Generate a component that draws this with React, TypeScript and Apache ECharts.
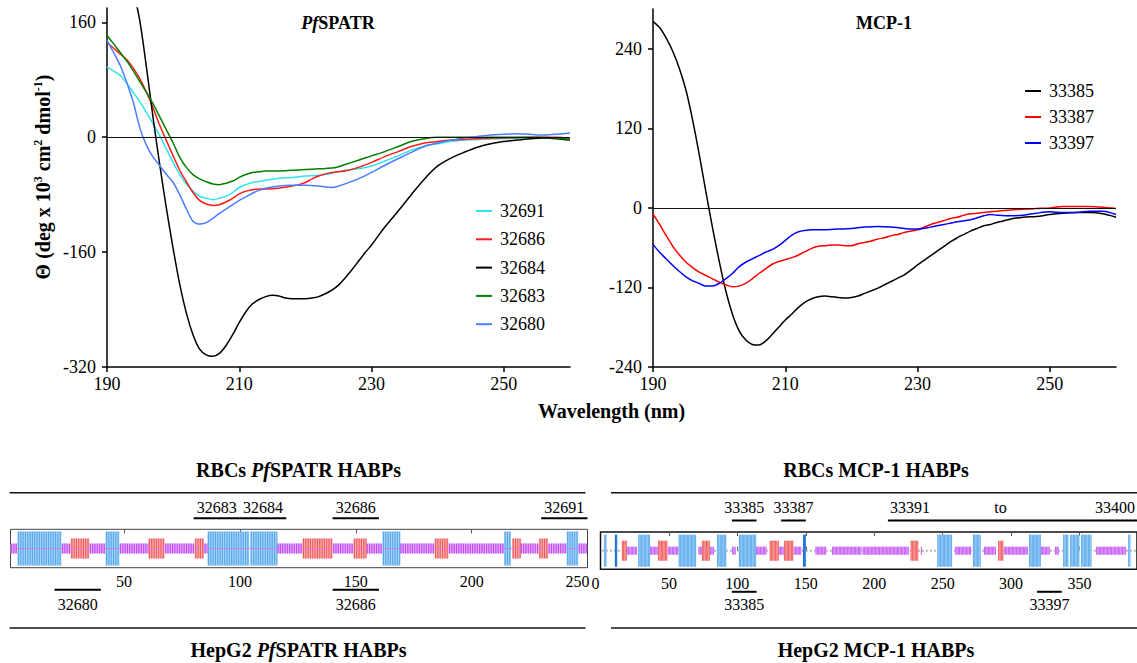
import React, { useEffect, useRef } from "react";
import * as echarts from "echarts";

const FONT = "Liberation Serif, Times New Roman, serif";
const W = 1137;
const H = 663;

// ---------- CD spectra ----------
const wavelengthTicks = [190, 210, 230, 250];
const spatrThetaTicks = [-320, -160, 0, 160];
const mcpThetaTicks = [-240, -120, 0, 120, 240];

const spatrNames = ["32691", "32686", "32684", "32683", "32680"];
const spatrColors = ["#2ee3ee", "#ff1a1a", "#000000", "#008000", "#4a7dff"];

const cd32691: number[][] = [[190,98],[191,92],[192,86],[193,75],[194,62],[195,49],[196,34],[197,18],[198,2],[199,-17],[200,-35],[201,-52],[202,-65],[203,-75],[204,-82],[205,-85],[206,-87],[207,-85],[208,-82],[209,-77],[210,-70],[211,-66],[212,-63],[214,-60],[216,-57],[218,-56],[220,-54],[222,-53],[224,-50],[226,-46],[228,-44],[230,-40],[232,-33],[234,-26],[236,-18],[238,-12],[240,-9],[242,-6],[244,-4],[246,-3],[250,-2],[255,-1],[260,-1]];
const cd32686: number[][] = [[190,132],[191,124],[192,116],[193,108],[194,96],[195,81],[196,62],[197,40],[198,16],[199,-5],[200,-26],[201,-46],[202,-62],[203,-77],[204,-88],[205,-93],[206,-95],[207,-94],[208,-90],[209,-85],[210,-79],[211,-75],[212,-73],[213,-72],[214,-72],[216,-71],[218,-68],[219,-66],[220,-63],[221,-58],[222,-54],[223,-51],[224,-49],[225,-48],[226,-47],[228,-42],[230,-35],[232,-27],[234,-20],[236,-13],[238,-8],[240,-6],[242,-4],[246,-2],[250,-1],[255,0],[258,0],[260,-2]];
const cd32684: number[][] = [[194,205],[195,160],[196,95],[197,25],[198,-40],[199,-100],[200,-155],[201,-205],[202,-245],[203,-275],[204,-295],[205,-303],[206,-305],[207,-301],[208,-290],[209,-275],[210,-258],[211,-243],[212,-232],[213,-226],[214,-222],[215,-220],[216,-221],[217,-224],[218,-225],[219,-225],[220,-225],[221,-224],[222,-222],[223,-218],[224,-213],[225,-206],[226,-196],[227,-185],[228,-173],[229,-161],[230,-150],[232,-125],[234,-103],[236,-80],[238,-58],[240,-40],[242,-29],[244,-21],[246,-14],[248,-9],[250,-6],[252,-4],[254,-2],[256,-1],[258,-2],[260,-4]];
const cd32683: number[][] = [[190,142],[191,130],[192,118],[193,106],[194,92],[195,77],[196,62],[197,46],[198,28],[199,10],[200,-8],[201,-28],[202,-42],[203,-52],[204,-58],[205,-62],[206,-65],[207,-66],[208,-64],[209,-61],[210,-56],[211,-52],[212,-49],[213,-48],[214,-47],[216,-47],[218,-46],[220,-45],[222,-44],[224,-43],[225,-41],[226,-38],[228,-32],[230,-26],[232,-20],[234,-13],[236,-6],[238,-2],[240,0],[245,0],[250,0],[255,0],[258,-1],[260,-3]];
const cd32680: number[][] = [[190,135],[191,118],[192,100],[193,76],[194,48],[195,12],[196,-12],[197,-28],[198,-40],[199,-52],[200,-63],[201,-80],[202,-100],[203,-117],[204,-121],[205,-119],[206,-113],[207,-106],[208,-100],[209,-94],[210,-88],[211,-83],[212,-78],[213,-74],[214,-71],[216,-68],[218,-67],[220,-67],[222,-68],[224,-70],[225,-68],[226,-65],[228,-58],[230,-49],[232,-39],[234,-30],[236,-21],[238,-13],[240,-8],[242,-4],[244,-1],[246,1],[248,3],[250,4],[252,5],[254,4],[256,3],[258,4],[260,6]];
const spatrData = [cd32691, cd32686, cd32684, cd32683, cd32680];

const mcpNames = ["33385", "33387", "33397"];
const mcpColors = ["#000000", "#ff0000", "#0000ff"];
const cd33385: number[][] = [[190,281],[191,272],[192,256],[193,236],[194,210],[195,177],[196,132],[197,80],[198,24],[199,-30],[200,-80],[201,-125],[202,-160],[203,-185],[204,-199],[205,-206],[206,-207],[207,-201],[208,-191],[209,-180],[210,-169],[211,-160],[212,-150],[213,-142],[214,-137],[215,-134],[216,-133],[217,-134],[218,-135],[219,-136],[220,-135],[221,-133],[222,-129],[223,-125],[224,-121],[225,-116],[226,-111],[227,-106],[228,-101],[229,-94],[230,-86],[231,-79],[232,-72],[233,-65],[234,-58],[235,-51],[236,-45],[237,-40],[238,-35],[239,-31],[240,-27],[241,-25],[242,-22],[244,-17],[246,-14],[248,-13],[250,-10],[252,-8],[254,-7],[256,-7],[258,-9],[260,-14]];
const cd33387: number[][] = [[190,-9],[191,-25],[192,-42],[193,-58],[194,-71],[195,-82],[196,-90],[197,-97],[198,-102],[199,-107],[200,-112],[201,-116],[202,-119],[203,-118],[204,-114],[205,-107],[206,-99],[207,-92],[208,-85],[209,-81],[210,-78],[211,-75],[212,-71],[213,-66],[214,-61],[215,-58],[216,-57],[217,-56],[218,-56],[219,-57],[220,-57],[221,-54],[222,-52],[223,-50],[224,-47],[225,-45],[226,-42],[227,-40],[228,-37],[229,-35],[230,-33],[231,-29],[232,-25],[233,-22],[234,-19],[235,-16],[236,-14],[237,-11],[238,-9],[239,-8],[240,-7],[242,-5],[244,-3],[246,-2],[248,-1],[250,0],[252,2],[254,2],[256,2],[258,1],[260,-1]];
const cd33397: number[][] = [[190,-55],[191,-67],[192,-77],[193,-87],[194,-96],[195,-104],[196,-110],[197,-114],[198,-118],[199,-118],[200,-114],[201,-107],[202,-99],[203,-89],[204,-82],[205,-77],[206,-72],[207,-67],[208,-63],[209,-57],[210,-49],[211,-41],[212,-36],[213,-34],[214,-33],[216,-33],[218,-32],[220,-31],[222,-29],[224,-28],[226,-29],[228,-31],[229,-32],[230,-32],[232,-29],[234,-25],[236,-21],[238,-18],[240,-12],[241,-10],[242,-11],[244,-12],[246,-11],[248,-8],[250,-6],[252,-7],[254,-7],[256,-5],[258,-5],[260,-10]];
const mcpData = [cd33385, cd33387, cd33397];

// ---------- Protein schematics ----------
const spatrLength = 250;
const spatrResidueTicks = [50, 100, 150, 200, 250];
const spatrBlue: number[][] = [[4,23],[42,48],[86,104],[104.5,116],[161.5,169],[214,217],[241,246]];
const spatrRed: number[][] = [[27,35],[60.5,67.5],[80.5,84.5],[127,140],[149,154.5],[184,190],[217.5,221],[229,233]];
const spatrPurple: number[][] = [[1,4],[23,27],[35,42],[48,60.5],[67.5,80.5],[84.5,86],[116,127],[140,149],[154.5,161.5],[169,184],[190,214],[221,229],[233,241],[246,249.5]];

const mcpLength = 392;
const mcpResidueTicks = [0, 50, 100, 150, 200, 250, 300, 350];
const mcpBlue: number[][] = [[2.5,4.5],[27.5,36],[57,70],[85,92],[101,113.5],[246,257],[272,277.5],[313,321.5],[338,342],[343,350],[351,358.5],[385.5,387]];
const mcpBlueDark: number[][] = [[10.5,12],[148,150]];
const mcpRed: number[][] = [[15.5,19],[42,49],[74,80],[123.5,130],[134,141],[226.5,232],[290.5,294.5]];
const mcpPurple: number[][] = [[19,26.5],[36,42],[49,57],[71.5,74],[80,83],[96,98.5],[113.5,121.5],[130,134],[141,146.5],[157,165],[169,190.5],[191.5,225],[234,235],[259,271],[280,289],[294.5,312],[321.5,328],[332,335],[362,384]];

// HABP peptides (first and last residue)
const spatrRbcIds = ["32683", "32684", "32686", "32691"];
const spatrRbcFrom = [81, 101, 141, 231];
const spatrRbcTo = [100, 120, 160, 250];
const spatrHepIds = ["32680", "32686"];
const spatrHepFrom = [21, 141];
const spatrHepTo = [40, 160];

const mcpRbcIds = ["33385", "33387", "33391 to 33400"];
const mcpRbcFrom = [97, 133, 211];
const mcpRbcTo = [114, 150, 395];
const mcpHepIds = ["33385", "33397"];
const mcpHepFrom = [97, 320];
const mcpHepTo = [114, 337];

type SegStyle = { half: number; fill: string; stripe: string };

function structureRenderer(styles: SegStyle[]) {
  return (params: any, api: any) => {
    const s = api.value(0);
    const e = api.value(1);
    const st = styles[api.value(2)];
    const cs = params.coordSys;
    const cy = cs.y + cs.height / 2;
    const x0 = api.coord([s, 0])[0];
    const x1 = api.coord([e, 0])[0];
    const unit = api.coord([1, 0])[0] - api.coord([0, 0])[0];
    const children: any[] = [
      { type: "rect", shape: { x: x0, y: cy - st.half, width: x1 - x0, height: st.half * 2 }, style: { fill: st.fill } },
    ];
    for (let r = s; r < e - 0.25; r += 1) {
      const xs = api.coord([r, 0])[0] + unit * 0.2;
      children.push({
        type: "rect",
        shape: { x: xs, y: cy - st.half, width: Math.max(0.6, unit * 0.5), height: st.half * 2 },
        style: { fill: st.stripe },
      });
    }
    return { type: "group", children };
  };
}

function habpRenderer(labels: string[], side: "top" | "bottom", segOff: number, textOff: number) {
  return (params: any, api: any) => {
    const cs = params.coordSys;
    const x0 = api.coord([api.value(0) - 1, 0])[0];
    const x1 = Math.min(api.coord([api.value(1), 0])[0], W);
    const label = labels[api.value(2)];
    const segY = side === "top" ? cs.y - segOff : cs.y + cs.height + segOff;
    const textY = side === "top" ? cs.y - textOff : cs.y + cs.height + textOff;
    const txt = (t: string, x: number, align: string) => ({
      type: "text",
      x,
      y: textY,
      style: { text: t, fill: "#000", fontSize: 16, fontFamily: FONT, align, verticalAlign: "middle" },
    });
    const children: any[] = [
      { type: "line", shape: { x1: x0, y1: segY, x2: x1, y2: segY }, style: { stroke: "#000", lineWidth: 2 } },
    ];
    const parts = label.split(" to ");
    if (parts.length === 2) {
      children.push(txt(parts[0], x0 + 2, "left"), txt("to", (x0 + x1) / 2 - 12, "center"), txt(parts[1], x1 - 2, "right"));
    } else {
      children.push(txt(label, (x0 + x1) / 2, "center"));
    }
    return { type: "group", children };
  };
}

const blackAxis = { color: "#000", width: 1.5 };
const tickLabel = { fontSize: 18, color: "#000", fontFamily: FONT };

function cdXAxis(grid: number) {
  return {
    gridIndex: grid, type: "value", min: 190, max: 260,
    axisLine: { show: true, onZero: false, lineStyle: blackAxis },
    axisTick: { show: true, customValues: wavelengthTicks, length: 5, lineStyle: blackAxis },
    axisLabel: { customValues: wavelengthTicks, margin: 8, ...tickLabel },
    splitLine: { show: false },
  };
}
function cdYAxis(grid: number, min: number, max: number, ticks: number[]) {
  return {
    gridIndex: grid, type: "value", min, max,
    axisLine: { show: true, onZero: false, lineStyle: blackAxis },
    axisTick: { show: true, customValues: ticks, length: 5, lineStyle: blackAxis },
    axisLabel: { customValues: ticks, margin: 11, ...tickLabel },
    splitLine: { show: false },
  };
}
// edge labels are nudged left (padding on their right) so the two panels' scales do not collide
function panelXAxis(grid: number, min: number, max: number, ticks: number[], pos: "top" | "bottom", edgeValue: number, edgePad: number) {
  return {
    gridIndex: grid, type: "value", min, max, position: pos,
    axisLine: { show: false },
    axisTick: { show: true, inside: true, length: 4, customValues: ticks.filter((t) => t > min && t < max), lineStyle: { color: "#555" } },
    axisLabel: pos === "bottom"
      ? {
          customValues: ticks, margin: 6, fontSize: 16, color: "#000", fontFamily: FONT,
          formatter: (v: number) => (v === edgeValue ? "{z|" + v + "}" : String(v)),
          rich: { z: { fontSize: 16, fontFamily: FONT, color: "#000", padding: [0, edgePad, 0, 0] } },
        }
      : { show: false },
    splitLine: { show: false },
  };
}

const bold = (size: number) => ({ fontSize: size, fontWeight: "bold", fontFamily: FONT, fill: "#000" });
const boldItalic = (size: number) => ({ fontSize: size, fontWeight: "bold", fontStyle: "italic", fontFamily: FONT, fill: "#000" });
function gText(x: number, y: number, text: string, rich: any, extra: any = {}) {
  return {
    type: "text", x, y, ...extra,
    style: { text, rich, align: "center", verticalAlign: "middle", fill: "#000", fontFamily: FONT },
  };
}
function gLine(x1: number, x2: number, y: number) {
  return { type: "line", shape: { x1, y1: y, x2, y2: y }, style: { stroke: "#111", lineWidth: 1.5 } };
}

export default function App() {
  const ref = useRef<HTMLDivElement>(null);
  useEffect(() => {
    if (!ref.current) return;
    const chart = echarts.init(ref.current, null, { renderer: "svg", width: W, height: H });

    const spatrStyles: SegStyle[] = [
      { half: 17, fill: "#a9d4f6", stripe: "#56a8ee" },
      { half: 10, fill: "#f8b4b4", stripe: "#ee5a5a" },
      { half: 5, fill: "#e6b4ff", stripe: "#bd48f0" },
    ];
    const mcpStyles: SegStyle[] = [
      { half: 16, fill: "#a9d4f6", stripe: "#4da2ec" },
      { half: 10, fill: "#f8b4b4", stripe: "#ee4a4a" },
      { half: 4, fill: "#e6b4ff", stripe: "#bd48f0" },
      { half: 16, fill: "#2a86e6", stripe: "#1466cc" },
    ];
    const spatrStructure = [
      ...spatrPurple.map(([s, e]) => [s, e, 2]),
      ...spatrRed.map(([s, e]) => [s, e, 1]),
      ...spatrBlue.map(([s, e]) => [s, e, 0]),
    ];
    const mcpStructure = [
      ...mcpPurple.map(([s, e]) => [s, e, 2]),
      ...mcpRed.map(([s, e]) => [s, e, 1]),
      ...mcpBlue.map(([s, e]) => [s, e, 0]),
      ...mcpBlueDark.map(([s, e]) => [s, e, 3]),
    ];

    const zeroLine = {
      silent: true, symbol: ["none", "none"], label: { show: false },
      lineStyle: { color: "#111", width: 1.2, type: "solid" }, data: [{ yAxis: 0 }],
    };

    const spatrSeries = spatrNames.map((name, i) => ({
      type: "line", name, xAxisIndex: 0, yAxisIndex: 0, data: spatrData[i],
      symbol: "none", showSymbol: false, smooth: 0.3, clip: true,
      lineStyle: { color: spatrColors[i], width: 1.5 }, itemStyle: { color: spatrColors[i] },
      markLine: i === 0 ? zeroLine : undefined, silent: true,
    }));
    const mcpSeries = mcpNames.map((name, i) => ({
      type: "line", name, xAxisIndex: 1, yAxisIndex: 1, data: mcpData[i],
      symbol: "none", showSymbol: false, smooth: 0.3, clip: true,
      lineStyle: { color: mcpColors[i], width: 1.5 }, itemStyle: { color: mcpColors[i] },
      markLine: i === 0 ? zeroLine : undefined, silent: true,
    }));

    const idx = (arr: string[], from: number[], to: number[]) => arr.map((_, i) => [from[i], to[i], i]);

    chart.setOption({
      animation: false,
      backgroundColor: "#fff",
      textStyle: { fontFamily: FONT },
      grid: [
        { left: 107, top: 8, width: 463, height: 359 },
        { left: 653, top: 9, width: 463, height: 358 },
        { left: 10.5, top: 529.3, width: 577, height: 38.4, show: true, borderColor: "#444", borderWidth: 1, backgroundColor: "transparent" },
        { left: 600.5, top: 532, width: 537, height: 37.3, show: true, borderColor: "#111", borderWidth: 1.5, backgroundColor: "transparent" },
      ],
      xAxis: [
        cdXAxis(0),
        cdXAxis(1),
        panelXAxis(2, 1, spatrLength, spatrResidueTicks, "bottom", 250, 20),
        panelXAxis(2, 1, spatrLength, spatrResidueTicks, "top", 250, 20),
        panelXAxis(3, 0, mcpLength, mcpResidueTicks, "bottom", 0, 10),
        panelXAxis(3, 0, mcpLength, mcpResidueTicks, "top", 0, 10),
      ],
      yAxis: [
        cdYAxis(0, -320, 180, spatrThetaTicks),
        cdYAxis(1, -240, 300, mcpThetaTicks),
        { gridIndex: 2, type: "value", min: -1, max: 1, show: false },
        { gridIndex: 3, type: "value", min: -1, max: 1, show: false },
      ],
      legend: [
        {
          data: spatrNames, orient: "vertical", left: 476, top: 202, padding: 0,
          itemWidth: 16, itemHeight: 2, itemGap: 10.3, icon: "rect", selectedMode: false,
          textStyle: { fontSize: 18, fontFamily: FONT, color: "#000", lineHeight: 18, padding: [0, 0, 0, 3] },
        },
        {
          data: mcpNames, orient: "vertical", left: 1025, top: 82, padding: 0,
          itemWidth: 16, itemHeight: 2, itemGap: 8, icon: "rect", selectedMode: false,
          textStyle: { fontSize: 18, fontFamily: FONT, color: "#000", lineHeight: 18, padding: [0, 0, 0, 3] },
        },
      ],
      series: [
        ...spatrSeries,
        ...mcpSeries,
        {
          type: "custom", xAxisIndex: 2, yAxisIndex: 2, silent: true, z: 2,
          renderItem: structureRenderer(spatrStyles), data: spatrStructure,
        },
        {
          type: "line", xAxisIndex: 2, yAxisIndex: 2, silent: true, z: 3, symbol: "none",
          data: [[1, 0], [spatrLength, 0]], lineStyle: { color: "#e070ec", width: 1, opacity: 0.8 },
        },
        {
          type: "line", xAxisIndex: 4, yAxisIndex: 3, silent: true, z: 1, symbol: "none",
          data: [[1, 0], [mcpLength, 0]], lineStyle: { color: "#b4b4b4", width: 2, type: [2, 2] },
        },
        {
          type: "custom", xAxisIndex: 4, yAxisIndex: 3, silent: true, z: 2,
          renderItem: structureRenderer(mcpStyles), data: mcpStructure,
        },
        {
          type: "custom", xAxisIndex: 2, yAxisIndex: 2, silent: true, z: 4,
          renderItem: habpRenderer(spatrRbcIds, "top", 11, 22), data: idx(spatrRbcIds, spatrRbcFrom, spatrRbcTo),
        },
        {
          type: "custom", xAxisIndex: 2, yAxisIndex: 2, silent: true, z: 4,
          renderItem: habpRenderer(spatrHepIds, "bottom", 22, 36.5), data: idx(spatrHepIds, spatrHepFrom, spatrHepTo),
        },
        {
          type: "custom", xAxisIndex: 4, yAxisIndex: 3, silent: true, z: 4,
          renderItem: habpRenderer(mcpRbcIds, "top", 11.5, 25), data: idx(mcpRbcIds, mcpRbcFrom, mcpRbcTo),
        },
        {
          type: "custom", xAxisIndex: 4, yAxisIndex: 3, silent: true, z: 4,
          renderItem: habpRenderer(mcpHepIds, "bottom", 22.5, 35), data: idx(mcpHepIds, mcpHepFrom, mcpHepTo),
        },
      ],
      graphic: [
        gText(338, 23, "{i|Pf}{b|SPATR}", { i: boldItalic(18), b: bold(18) }),
        gText(884, 23, "{b|MCP-1}", { b: bold(18) }),
        gText(43, 177, "{m|Θ (deg x 10}{s|3}{m| cm}{s|2}{m| dmol}{s|-1}{m|)}", {
          m: { ...bold(20), lineHeight: 22 },
          s: { ...bold(12), verticalAlign: "top", lineHeight: 12 },
        }, { rotation: Math.PI / 2 }),
        gText(611.5, 411, "{b|Wavelength (nm)}", { b: bold(20) }),
        gText(298.5, 470, "{b|RBCs }{i|Pf}{b|SPATR HABPs}", { b: bold(20), i: boldItalic(20) }),
        gText(876, 470, "{b|RBCs MCP-1 HABPs}", { b: bold(20) }),
        gText(298.5, 650, "{b|HepG2 }{i|Pf}{b|SPATR HABPs}", { b: bold(20), i: boldItalic(20) }),
        gText(876, 650, "{b|HepG2 MCP-1 HABPs}", { b: bold(20) }),
        gLine(9.6, 585.5, 492.7),
        gLine(611, 1137, 492.7),
        gLine(9.6, 585.5, 628),
        gLine(611, 1137, 628),
      ],
    });
    return () => chart.dispose();
  }, []);
  return <div ref={ref} style={{ position: "absolute", left: 0, top: 0, width: W, height: H, background: "#fff" }} />;
}
